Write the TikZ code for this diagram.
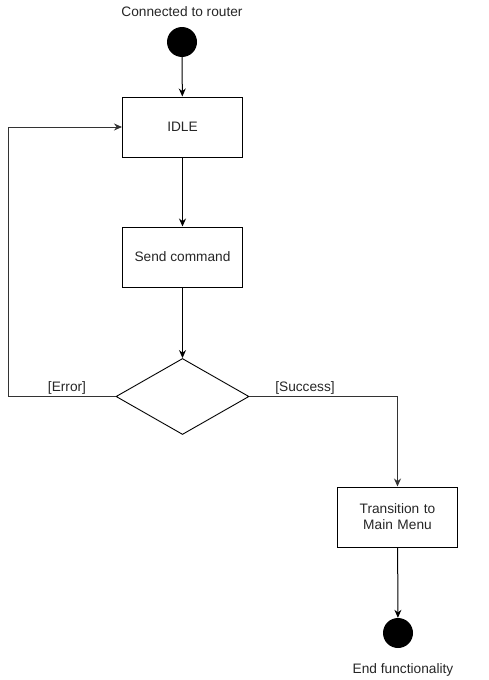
\documentclass[tikz,border=0pt]{standalone}
\usepackage{fontspec}
\setmainfont{Liberation Sans}
\usetikzlibrary{arrows.meta,shapes.geometric}
\begin{document}
\begin{tikzpicture}[x=1pt,y=-1pt,
  every node/.style={font=\fontsize{13.7}{16}\selectfont, text=black!85},
  statebox/.style={draw, line width=1pt, minimum width=120pt, minimum height=60pt, inner sep=0pt, align=center},
  dot/.style={circle, fill=black, minimum size=30pt, inner sep=0pt},
  choice/.style={diamond, draw, line width=0.9pt, minimum width=133pt, minimum height=76pt, inner sep=0pt, aspect=1.75},
  flow/.style={line width=1pt, -{Stealth[length=8pt,width=7pt]}},
  lbl/.style={inner sep=1pt}]
\useasboundingbox (0,0) rectangle (488,680);
\node (t1) at (182,12) {Connected to router};
\node[dot] (start) at (182,42) {};
\node[statebox] (idle) at (182.5,127) {IDLE};
\node[statebox] (send) at (182.5,257) {Send command};
\node[choice] (dec) at (182.5,396.5) {};
\node[statebox, text width=110pt] (trans) at (397.5,517) {Transition to\\Main Menu};
\node[dot] (end) at (398,633) {};
\node (t2) at (403,670) {End functionality};
\coordinate (el) at (8,396.5);
\coordinate (eu) at (8,127);
\coordinate (sr) at (397.5,396.5);
\draw[flow] (start) -- (idle);
\draw[flow] (idle) -- (send);
\draw[flow] (send) -- (dec);
\draw[flow, draw=black!80] (dec.west) -- (el) -- (eu) -- (idle.west);
\draw[flow, draw=black!80] (dec.east) -- (sr) -- (trans.north);
\draw[flow] (trans) -- (end);
\node[lbl] at (67,387.5) {[Error]};
\node[lbl] at (305,387.5) {[Success]};
\end{tikzpicture}
\end{document}
